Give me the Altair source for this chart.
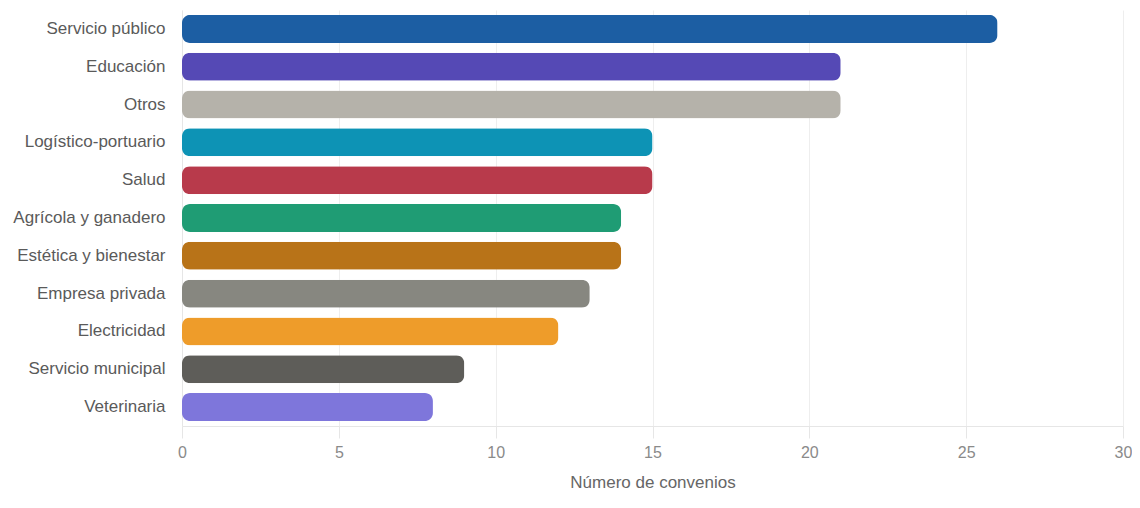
import altair as alt
import pandas as pd

categories = ["Servicio público", "Educación", "Otros", "Logístico-portuario", "Salud",
              "Agrícola y ganadero", "Estética y bienestar", "Empresa privada",
              "Electricidad", "Servicio municipal", "Veterinaria"]
values = [26, 21, 21, 15, 15, 14, 14, 13, 12, 9, 8]
colors = ["#1c5ea3", "#5549b5", "#b5b2aa", "#0d93b5", "#b83a4b", "#1f9c74",
          "#b87318", "#878780", "#ee9c2a", "#5e5d59", "#7e76db"]

df = pd.DataFrame({"cat": categories, "val": values})

chart = alt.Chart(df).mark_bar(cornerRadius=8).encode(
    y=alt.Y("cat:N", sort=categories, title=None,
            scale=alt.Scale(paddingInner=0.26, paddingOuter=0.13),
            axis=alt.Axis(labelFont="Liberation Sans", labelFontSize=17, labelColor="#5a5a5a",
                          labelPadding=17, ticks=False, domainColor="#e6e6e6", grid=False)),
    x=alt.X("val:Q", title="Número de convenios",
            scale=alt.Scale(domain=[0, 30], nice=False),
            axis=alt.Axis(values=[0, 5, 10, 15, 20, 25, 30], labelFont="Liberation Sans",
                          labelFontSize=16, labelColor="#8a8a8a", labelPadding=6,
                          labelFlush=False,
                          tickSize=12, tickColor="#e6e6e6", domainColor="#e6e6e6",
                          gridColor="#eeeeee", titleFont="Liberation Sans", titleFontSize=17,
                          titleFontWeight="normal", titleColor="#666666", titlePadding=14)),
    color=alt.Color("cat:N", sort=categories,
                    scale=alt.Scale(domain=categories, range=colors), legend=None),
).properties(
    width=941, height=416,
    autosize=alt.AutoSizeParams(type="none"),
    padding={"left": 174, "top": 2, "right": 9, "bottom": 70},
).configure_view(stroke=None)

chart.save("out.html", embed_options={"renderer": "svg", "actions": False})
